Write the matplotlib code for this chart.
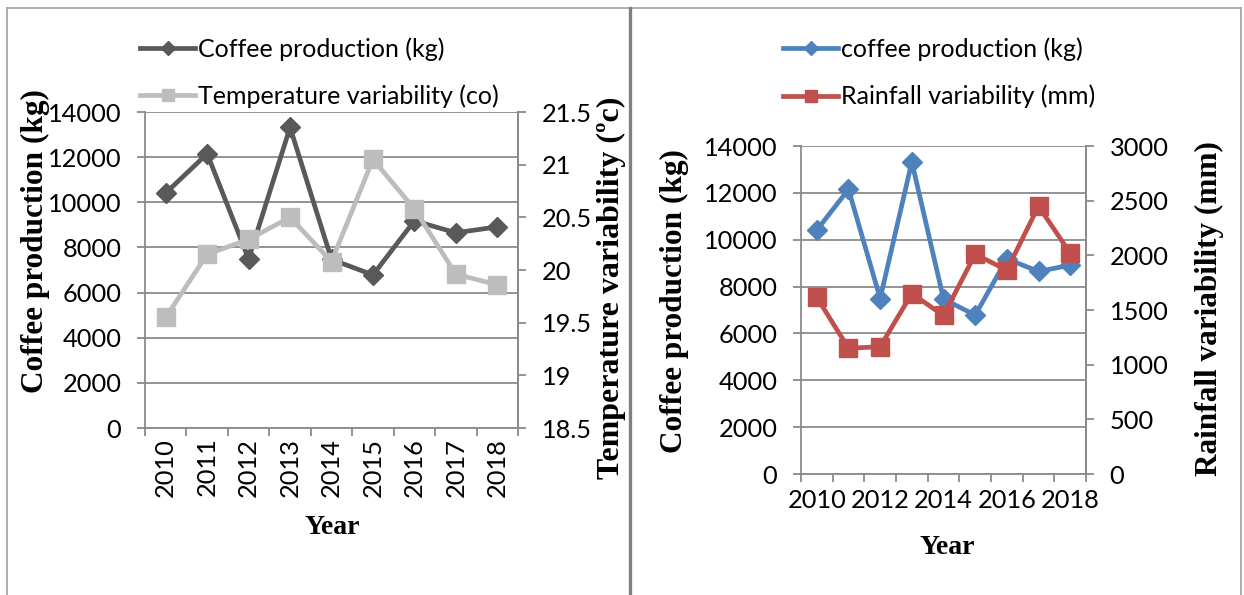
import matplotlib.pyplot as plt
from matplotlib.lines import Line2D
from matplotlib.ticker import FormatStrFormatter, FixedLocator

# values
years = ['2010', '2011', '2012', '2013', '2014', '2015', '2016', '2017', '2018']
coffee_kg = [10410, 12150, 7490, 13320, 7470, 6780, 9180, 8650, 8910]
temperature_c = [19.55, 20.15, 20.29, 20.5, 20.08, 21.05, 20.58, 19.96, 19.86]
rainfall_mm = [1615, 1150, 1165, 1650, 1450, 2010, 1865, 2450, 2020]

coffee_ticks = [0, 2000, 4000, 6000, 8000, 10000, 12000, 14000]
temp_ticks = [18.5, 19, 19.5, 20, 20.5, 21, 21.5]
rain_ticks = [0, 500, 1000, 1500, 2000, 2500, 3000]

SANS = 'Lato'
SERIF = 'Liberation Serif'
GRID = '#8a8a8a'
TICK_FS = 18.3
LEG_FS = 18
W, H = 1244, 595

plt.rcParams['font.family'] = SANS


def box(x0, y0, x1, y1):
    # pixel box (top-left origin) -> figure fraction
    return [x0 / W, 1 - y1 / H, (x1 - x0) / W, (y1 - y0) / H]


def style(ax, ax2, left_ticks, right_ticks, label_every, rot, xpad):
    n = len(years)
    x = list(range(n))
    ax.set_xlim(-0.5, n - 0.5)
    ax.set_ylim(left_ticks[0], left_ticks[-1])
    ax2.set_ylim(right_ticks[0], right_ticks[-1])
    ax.set_yticks(left_ticks)
    ax2.set_yticks(right_ticks)
    ax2.yaxis.set_major_formatter(FormatStrFormatter('%g'))
    ax.set_xticks(x[::label_every])
    ax.set_xticklabels(years[::label_every], rotation=rot)
    ax.xaxis.set_minor_locator(FixedLocator([i - 0.5 for i in range(n + 1)]))
    ax.tick_params(axis='x', which='major', length=0, pad=xpad, labelsize=TICK_FS)
    ax.tick_params(axis='x', which='minor', length=6, width=1.3, color=GRID)
    ax.tick_params(axis='y', length=6, width=1.3, color=GRID, pad=11, labelsize=TICK_FS)
    ax2.tick_params(axis='y', length=6, width=1.3, color=GRID, pad=11, labelsize=TICK_FS)
    ax.grid(axis='y', color=GRID, lw=1.3)
    ax.set_axisbelow(True)
    for a in (ax, ax2):
        a.spines['top'].set_visible(False)
        for s in ('left', 'right', 'bottom'):
            a.spines[s].set_color(GRID)
            a.spines[s].set_linewidth(1.3)
    ax2.spines['left'].set_visible(False)
    ax2.spines['bottom'].set_visible(False)


fig = plt.figure(figsize=(12.44, 5.95), dpi=100)
x = list(range(len(years)))

# ---- left chart: coffee vs temperature
ax1 = fig.add_axes(box(145, 112, 518, 428))
ax1b = ax1.twinx()
l1, = ax1.plot(x, coffee_kg, color='#595959', lw=3.4, marker='D', ms=10.5,
               label='Coffee production (kg)')
l2, = ax1b.plot(x, temperature_c, color='#bdbdbd', lw=3.4, marker='s', ms=13.5,
                label='Temperature variability (co)')
style(ax1, ax1b, coffee_ticks, temp_ticks, 1, 90, 7)

fig.legend(handles=[l1, l2], loc='center left', bbox_to_anchor=(140 / W, 1 - 72.5 / H),
           frameon=False, handlelength=2.2, handletextpad=0.12, labelspacing=0.95,
           borderpad=0, borderaxespad=0, fontsize=LEG_FS, markerscale=0.65)

fig.text(35 / W, 1 - 241 / H, 'Coffee production (kg)', rotation=90, ha='center', va='center',
         family=SERIF, weight='bold', fontsize=22.5)
fig.text(611 / W, 1 - 288 / H, 'Temperature variability (\u00bac)', rotation=90, ha='center',
         va='center', family=SERIF, weight='bold', fontsize=23)
fig.text(332 / W, 1 - 527 / H, 'Year', ha='center', va='center',
         family=SERIF, weight='bold', fontsize=20)

# ---- right chart: coffee vs rainfall
ax2 = fig.add_axes(box(801, 146, 1086, 474))
ax2b = ax2.twinx()
r1, = ax2.plot(x, coffee_kg, color='#4f81bd', lw=3.4, marker='D', ms=10.5,
               label='coffee production (kg)')
r2, = ax2b.plot(x, rainfall_mm, color='#c0504d', lw=3.4, marker='s', ms=13.5,
                label='Rainfall variability (mm)')
style(ax2, ax2b, coffee_ticks, rain_ticks, 2, 0, 11)

fig.legend(handles=[r1, r2], loc='center left', bbox_to_anchor=(783 / W, 1 - 73 / H),
           frameon=False, handlelength=2.2, handletextpad=0.12, labelspacing=0.95,
           borderpad=0, borderaxespad=0, fontsize=LEG_FS, markerscale=0.65)

fig.text(674 / W, 1 - 301 / H, 'Coffee production (kg)', rotation=90, ha='center', va='center',
         family=SERIF, weight='bold', fontsize=22.5)
fig.text(1209 / W, 1 - 309 / H, 'Rainfall variability (mm)', rotation=90, ha='center',
         va='center', family=SERIF, weight='bold', fontsize=22.5)
fig.text(947 / W, 1 - 547 / H, 'Year', ha='center', va='center',
         family=SERIF, weight='bold', fontsize=20)

# panel frames
fig.add_artist(Line2D([7 / W, 1241 / W], [1 - 8 / H] * 2, color='#a0a0a0', lw=1.2))
fig.add_artist(Line2D([7 / W] * 2, [0, 1 - 8 / H], color='#a0a0a0', lw=1.2))
fig.add_artist(Line2D([1241 / W] * 2, [0, 1 - 8 / H], color='#a0a0a0', lw=1.2))
fig.add_artist(Line2D([630 / W] * 2, [0, 1 - 8 / H], color='#808080', lw=2.4))

fig.savefig('out.png', dpi=100)
